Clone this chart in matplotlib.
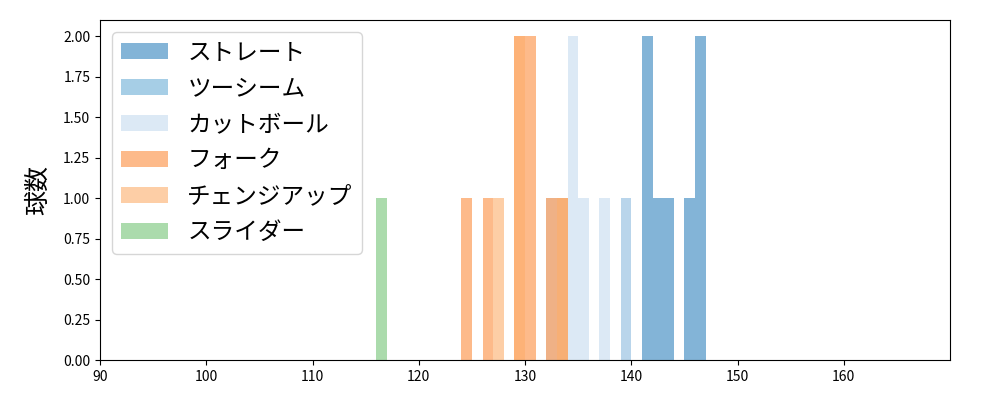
import numpy as np
import matplotlib
matplotlib.use("Agg")
import matplotlib.pyplot as plt

plt.rcParams['font.family'] = ['Noto Sans CJK JP', 'DejaVu Sans']

pitch_names = ["ストレート", "ツーシーム", "カットボール", "フォーク", "チェンジアップ", "スライダー"]
straight = [141, 141, 142, 143, 145, 146, 146]
two_seam = [139]
cutter = [132, 133, 134, 134, 135, 137, 139]
fork = [124, 126, 129, 129, 130, 130, 132, 133]
changeup = [127, 129, 129, 133]
slider = [116]
series = [straight, two_seam, cutter, fork, changeup, slider]
colors = ["#3182bd", "#6baed6", "#c6dbef", "#fd8d3c", "#fdae6b", "#74c476"]

bin_edges = np.arange(90, 171, 1)

fig, ax = plt.subplots(figsize=(10, 4), dpi=100)
fig.subplots_adjust(left=0.1, right=0.95, top=0.95, bottom=0.1)

for name, vals, c in zip(pitch_names, series, colors):
    ax.hist(np.array(vals) + 0.5, bins=bin_edges, color=c, alpha=0.6, label=name)

ax.set_xlim(90, 170)
ax.set_ylim(0, 2.1)
ax.set_xticks(np.arange(90, 161, 10))
ax.set_yticks(np.arange(0, 2.01, 0.25))
ax.yaxis.set_major_formatter(matplotlib.ticker.FormatStrFormatter('%.2f'))
ax.set_ylabel("球数", fontsize=18, labelpad=9)
ax.legend(loc="upper left", fontsize=17, handlelength=2.0, labelspacing=0.55)

fig.savefig("out.png")
